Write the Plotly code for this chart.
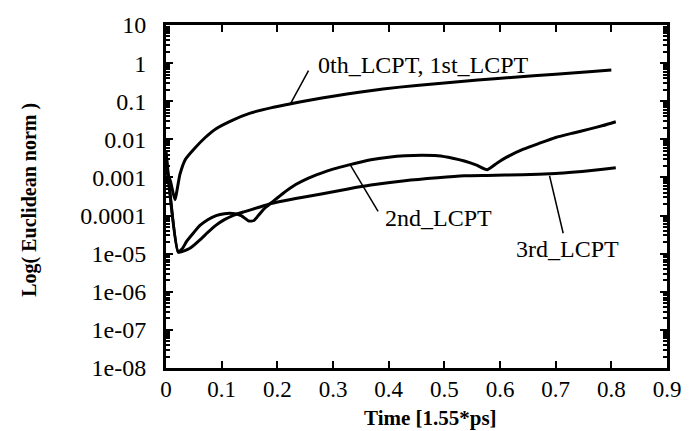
import plotly.graph_objects as go
import numpy as np

# ---- data -------------------------------------------------------------
# 0th / 1st order LCPT
t_01 = [0, 0.008, 0.016, 0.025, 0.035, 0.05, 0.07, 0.09, 0.12, 0.15, 0.19,
        0.22, 0.26, 0.30, 0.35, 0.39, 0.45, 0.50, 0.56, 0.62, 0.70, 0.76, 0.80]
norm_01 = [1.5e-3, 8e-4, 2.6e-4, 1.2e-3, 3.0e-3, 5.5e-3, 1.1e-2, 1.9e-2,
           3.2e-2, 4.8e-2, 6.8e-2, 8.3e-2, 0.108, 0.135, 0.175, 0.21, 0.26,
           0.30, 0.36, 0.42, 0.51, 0.59, 0.66]

# 2nd order LCPT
t_2 = [0, 0.022, 0.03, 0.037, 0.05, 0.061, 0.075, 0.09, 0.105, 0.12, 0.135,
       0.149, 0.158, 0.167, 0.178, 0.19, 0.21, 0.233, 0.255, 0.279, 0.30,
       0.327, 0.368, 0.40, 0.429, 0.46, 0.488, 0.515, 0.536, 0.558, 0.577,
       0.595, 0.612, 0.642, 0.67, 0.70, 0.73, 0.76, 0.785, 0.808]
norm_2 = [5e-3, 1.1e-5, 1.4e-5, 2.1e-5, 3.6e-5, 5.5e-5, 7.8e-5, 1.0e-4,
          1.12e-4, 1.13e-4, 1.0e-4, 7.2e-5, 7.4e-5, 1.05e-4, 1.6e-4, 2.2e-4,
          3.8e-4, 6.5e-4, 9.5e-4, 1.3e-3, 1.65e-3, 2.1e-3, 2.9e-3, 3.4e-3,
          3.7e-3, 3.8e-3, 3.7e-3, 3.2e-3, 2.7e-3, 2.1e-3, 1.6e-3, 2.4e-3,
          3.4e-3, 5.5e-3, 7.8e-3, 1.12e-2, 1.45e-2, 1.85e-2, 2.3e-2, 2.9e-2]

# 3rd order LCPT
t_3 = [0, 0.022, 0.03, 0.037, 0.045, 0.061, 0.075, 0.09, 0.105, 0.12, 0.14,
       0.167, 0.185, 0.21, 0.233, 0.279, 0.327, 0.368, 0.429, 0.488, 0.536,
       0.577, 0.64, 0.70, 0.735, 0.76, 0.785, 0.808]
norm_3 = [4e-3, 1.1e-5, 1.15e-5, 1.25e-5, 1.45e-5, 2.3e-5, 3.6e-5, 5.6e-5,
          7.8e-5, 1.0e-4, 1.25e-4, 1.65e-4, 2.0e-4, 2.4e-4, 2.8e-4, 3.7e-4,
          5.0e-4, 6.3e-4, 8.2e-4, 9.8e-4, 1.1e-3, 1.13e-3, 1.18e-3, 1.26e-3,
          1.38e-3, 1.5e-3, 1.65e-3, 1.8e-3]

x_ticks = [0, 0.1, 0.2, 0.3, 0.4, 0.5, 0.6, 0.7, 0.8, 0.9]
x_ticktext = ["0", "0.1", "0.2", "0.3", "0.4", "0.5", "0.6", "0.7", "0.8", "0.9"]
y_ticks = [10, 1, 0.1, 0.01, 0.001, 0.0001, 1e-5, 1e-6, 1e-7, 1e-8]
y_ticktext = ["10", "1", "0.1", "0.01", "0.001", "0.0001",
              "1e-05", "1e-06", "1e-07", "1e-08"]

X_RANGE = [0, 0.9]
Y_RANGE = [-8, 1]   # log10 decades

# ---- figure -----------------------------------------------------------
FONT = "Liberation Serif, Times New Roman, serif"
fig = go.Figure()
for t, v in [(t_01, norm_01), (t_2, norm_2), (t_3, norm_3)]:
    fig.add_trace(go.Scatter(x=t, y=v, mode="lines",
                             line=dict(color="black", width=3,
                                       shape="spline", smoothing=0.5),
                             showlegend=False, hoverinfo="skip"))

minor_vals = [k * 10.0 ** e for e in range(-8, 1) for k in range(2, 10)]

fig.update_xaxes(range=X_RANGE, tickvals=x_ticks, ticktext=x_ticktext,
                 ticks="inside", ticklen=7, tickwidth=2, tickcolor="black",
                 showline=True, linewidth=3, linecolor="black", mirror="ticks",
                 showgrid=False, zeroline=False,
                 tickfont=dict(family=FONT, size=23, color="black"),
                 ticklabelstandoff=-2)
fig.update_yaxes(type="log", range=Y_RANGE, tickvals=y_ticks,
                 ticktext=y_ticktext, ticks="inside", ticklen=7, tickwidth=2,
                 tickcolor="black", showline=True, linewidth=3,
                 linecolor="black", mirror="ticks", showgrid=False,
                 zeroline=False,
                 minor=dict(tickmode="array", tickvals=minor_vals,
                            ticks="inside", ticklen=4, tickwidth=1.5,
                            tickcolor="black", showgrid=False),
                 tickfont=dict(family=FONT, size=24, color="black"),
                 ticklabelstandoff=12)


def to_paper(x, y):
    """Map a (time, norm) point to paper coordinates of the plot area."""
    px = (x - X_RANGE[0]) / (X_RANGE[1] - X_RANGE[0])
    py = (np.log10(y) - Y_RANGE[0]) / (Y_RANGE[1] - Y_RANGE[0])
    return float(px), float(py)


def leader(x0, y0, x1, y1):
    a, b = to_paper(x0, y0)
    c, d = to_paper(x1, y1)
    return dict(type="line", xref="paper", yref="paper", x0=a, y0=b,
                x1=c, y1=d, line=dict(color="black", width=1.5))


fig.update_layout(
    width=693, height=431,
    margin=dict(l=166, r=21, t=22, b=63),
    paper_bgcolor="white", plot_bgcolor="white",
    shapes=[leader(0.224, 0.088, 0.256, 0.635),
            leader(0.331, 2.15e-3, 0.381, 1.28e-4),
            leader(0.689, 1.11e-3, 0.7135, 3.44e-5)],
    annotations=[
        dict(text="0th_LCPT, 1st_LCPT", x=0.2687, y=float(np.log10(0.91)),
             xref="x", yref="y", xanchor="left", yanchor="middle",
             showarrow=False, font=dict(family=FONT, size=24, color="black")),
        dict(text="2nd_LCPT", x=0.3897, y=float(np.log10(8.45e-5)),
             xref="x", yref="y", xanchor="left", yanchor="middle",
             showarrow=False, font=dict(family=FONT, size=24, color="black")),
        dict(text="3rd_LCPT", x=0.6246, y=float(np.log10(1.32e-5)),
             xref="x", yref="y", xanchor="left", yanchor="middle",
             showarrow=False, font=dict(family=FONT, size=24, color="black")),
        dict(text="<b>Time [1.55*ps]</b>", x=0.528, y=-0.147,
             xref="paper", yref="paper", xanchor="center", yanchor="middle",
             showarrow=False, font=dict(family=FONT, size=21, color="black")),
        dict(text="<b>Log( Euclidean norm )</b>", x=-0.273, y=0.491,
             xref="paper", yref="paper", xanchor="center", yanchor="middle",
             textangle=-90, showarrow=False,
             font=dict(family=FONT, size=20, color="black")),
    ],
)

fig.write_html("out.html")
